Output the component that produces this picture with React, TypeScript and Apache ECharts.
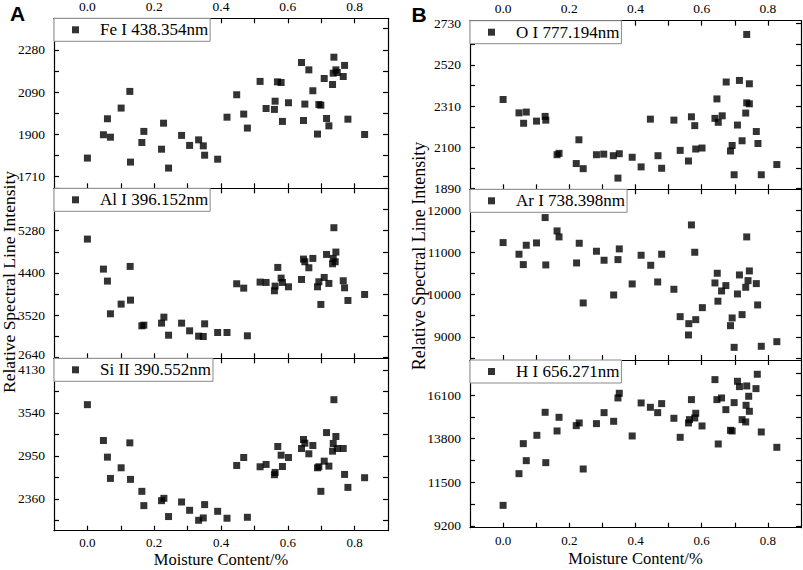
import React, { useEffect, useRef } from 'react';
import * as echarts from 'echarts';

// ---------- data ----------
const xTicks = [0, 0.1, 0.2, 0.3, 0.4, 0.5, 0.6, 0.7, 0.8];
const xLabels = [0, 0.2, 0.4, 0.6, 0.8];

const feLabels = [1710, 1900, 2090, 2280];
const feTicks = [1710, 1805, 1900, 1995, 2090, 2185, 2280, 2375];
const alLabels = [2640, 3520, 4400, 5280];
const alTicks = [2640, 3080, 3520, 3960, 4400, 4840, 5280, 5720, 6160];
const siLabels = [2360, 2950, 3540, 4130];
const siTicks = [2065, 2360, 2655, 2950, 3245, 3540, 3835, 4130];
const oLabels = [1890, 2100, 2310, 2520, 2730];
const oTicks = [1890, 1995, 2100, 2205, 2310, 2415, 2520, 2625, 2730];
const arLabels = [9000, 10000, 11000, 12000];
const arTicks = [8500, 9000, 9500, 10000, 10500, 11000, 11500, 12000];
const hLabels = [9200, 11500, 13800, 16100];
const hTicks = [9200, 10350, 11500, 12650, 13800, 14950, 16100, 17250];

const fePoints = [
  [0.0, 1793], [0.048, 1898], [0.06, 1970], [0.069, 1887], [0.101, 2018], [0.127, 2093], [0.129, 1775],
  [0.163, 1863], [0.169, 1913], [0.222, 1833], [0.228, 1950], [0.243, 1748], [0.282, 1895], [0.306, 1850],
  [0.333, 1875], [0.347, 1848], [0.351, 1806], [0.39, 1788], [0.418, 1977], [0.447, 2078], [0.468, 1991],
  [0.479, 1928], [0.517, 2138], [0.535, 2016], [0.56, 2012], [0.562, 2049], [0.569, 2136], [0.58, 2133],
  [0.584, 1958], [0.602, 2042], [0.641, 2223], [0.647, 1962], [0.651, 2036], [0.663, 2190], [0.675, 2096],
  [0.689, 1901], [0.693, 2034], [0.699, 2031], [0.709, 2151], [0.716, 1971], [0.723, 1938], [0.734, 2124],
  [0.736, 2175], [0.738, 2247], [0.744, 2190], [0.748, 2178], [0.766, 2160], [0.77, 2210], [0.78, 1968],
  [0.83, 1899],
];

const alPoints = [
  [0.0, 5106], [0.048, 4480], [0.06, 4230], [0.069, 3548], [0.101, 3750], [0.128, 4536], [0.129, 3833],
  [0.163, 3297], [0.169, 3311], [0.222, 3353], [0.229, 3478], [0.243, 3102], [0.282, 3353], [0.306, 3193],
  [0.333, 3082], [0.347, 3075], [0.351, 3339], [0.39, 3158], [0.418, 3158], [0.447, 4174], [0.468, 4083],
  [0.479, 3089], [0.517, 4209], [0.535, 4202], [0.56, 4028], [0.562, 4125], [0.57, 4515], [0.58, 4292],
  [0.584, 4202], [0.602, 4111], [0.641, 4264], [0.647, 4689], [0.651, 4633], [0.663, 4508], [0.675, 4703],
  [0.689, 4111], [0.693, 4216], [0.699, 3743], [0.709, 4306], [0.716, 4786], [0.723, 4181], [0.734, 4591],
  [0.736, 4703], [0.738, 5343], [0.742, 4633], [0.744, 4835], [0.766, 4237], [0.77, 4090], [0.78, 3826],
  [0.83, 3951],
];

const siPoints = [
  [0.0, 3654], [0.048, 3162], [0.06, 2934], [0.069, 2642], [0.101, 2788], [0.127, 3130], [0.129, 2629],
  [0.163, 2465], [0.169, 2269], [0.222, 2337], [0.229, 2369], [0.243, 2119], [0.282, 2319], [0.306, 2205],
  [0.333, 2068], [0.347, 2100], [0.351, 2283], [0.39, 2191], [0.418, 2096], [0.447, 2820], [0.468, 2929],
  [0.479, 2109], [0.517, 2802], [0.535, 2834], [0.56, 2693], [0.562, 2724], [0.57, 3080], [0.58, 2961],
  [0.584, 2806], [0.602, 2929], [0.641, 3053], [0.647, 3176], [0.651, 3125], [0.663, 2980], [0.675, 3094],
  [0.689, 2788], [0.693, 2802], [0.699, 2465], [0.709, 2879], [0.716, 3271], [0.723, 2811], [0.734, 3016],
  [0.736, 3121], [0.738, 3722], [0.744, 3217], [0.748, 3053], [0.766, 3053], [0.77, 2697], [0.78, 2519],
  [0.83, 2652],
];

const oPoints = [
  [0.0, 2344], [0.048, 2276], [0.062, 2223], [0.07, 2280], [0.101, 2234], [0.127, 2258], [0.129, 2239],
  [0.163, 2063], [0.169, 2070], [0.221, 2018], [0.229, 2139], [0.242, 1992], [0.282, 2063], [0.304, 2066],
  [0.333, 2058], [0.347, 1944], [0.351, 2068], [0.39, 2050], [0.417, 2001], [0.445, 2244], [0.468, 2058],
  [0.479, 1994], [0.516, 2239], [0.535, 2085], [0.56, 2031], [0.569, 2256], [0.579, 2211], [0.582, 2092],
  [0.601, 2097], [0.64, 2248], [0.646, 2347], [0.65, 2228], [0.662, 2261], [0.674, 2433], [0.687, 2082],
  [0.692, 2110], [0.698, 1961], [0.708, 2214], [0.714, 2441], [0.722, 2134], [0.733, 2275], [0.736, 2327],
  [0.736, 2675], [0.744, 2322], [0.744, 2424], [0.765, 2181], [0.77, 2120], [0.78, 1961], [0.827, 2013],
];

const arPoints = [
  [0.0, 11229], [0.048, 10953], [0.061, 10708], [0.07, 11166], [0.101, 11221], [0.127, 11821], [0.129, 10700],
  [0.163, 11505], [0.169, 11363], [0.222, 10747], [0.23, 11213], [0.242, 9800], [0.282, 11024], [0.305, 10811],
  [0.334, 9989], [0.347, 10826], [0.351, 11079], [0.39, 10250], [0.417, 10929], [0.446, 10692], [0.467, 10297],
  [0.479, 10953], [0.516, 10124], [0.535, 9476], [0.56, 9042], [0.561, 9310], [0.569, 11647], [0.579, 11000],
  [0.582, 9405], [0.602, 9689], [0.64, 10274], [0.647, 10503], [0.649, 9842], [0.66, 10084], [0.673, 10211],
  [0.687, 9263], [0.692, 9445], [0.698, 8750], [0.708, 10013], [0.714, 10463], [0.722, 9524], [0.733, 10171],
  [0.736, 11363], [0.74, 10329], [0.744, 10558], [0.765, 10258], [0.769, 9753], [0.78, 8774], [0.827, 8884],
];

const hPoints = [
  [0.0, 10280], [0.048, 11952], [0.061, 13536], [0.07, 12638], [0.102, 13976], [0.127, 15190], [0.129, 12533],
  [0.163, 14205], [0.169, 14926], [0.221, 14486], [0.23, 14627], [0.242, 12198], [0.282, 14592], [0.305, 15173],
  [0.334, 14715], [0.347, 15947], [0.351, 16194], [0.39, 13941], [0.417, 15683], [0.445, 15454], [0.467, 15173],
  [0.479, 15648], [0.516, 14874], [0.535, 13870], [0.56, 14627], [0.563, 14803], [0.569, 15859], [0.579, 14891],
  [0.582, 15138], [0.601, 14469], [0.64, 16915], [0.646, 15859], [0.65, 13518], [0.66, 15947], [0.673, 15331],
  [0.687, 14240], [0.692, 14205], [0.698, 15701], [0.708, 16827], [0.714, 16546], [0.722, 14803], [0.733, 14680],
  [0.734, 15560], [0.736, 16581], [0.742, 16035], [0.744, 15243], [0.764, 16440], [0.768, 17197], [0.78, 14152],
  [0.827, 13342],
];

const seriesNames = ['Fe I 438.354nm', 'Al I 396.152nm', 'Si II 390.552nm', 'O I 777.194nm', 'Ar I 738.398nm', 'H I 656.271nm'];
const xTitle = 'Moisture Content/%';
const yTitle = 'Relative Spectral Line Intensity';

// ---------- layout ----------
const SERIF = 'Liberation Serif';
const panels = [
  { data: fePoints, labels: feLabels, ticks: feTicks, min: 1657, max: 2422, left: 54, top: 18.3, width: 334, height: 170, first: true, last: false, lift: null as number | null, bottomMargin: 6 },
  { data: alPoints, labels: alLabels, ticks: alTicks, min: 2620, max: 6165, left: 54, top: 188.3, width: 334, height: 170, first: false, last: false, lift: 2640, bottomMargin: 6 },
  { data: siPoints, labels: siLabels, ticks: siTicks, min: 1925, max: 4290, left: 54, top: 358.3, width: 334, height: 172.4, first: false, last: true, lift: null, bottomMargin: 6 },
  { data: oPoints, labels: oLabels, ticks: oTicks, min: 1887, max: 2745, left: 470, top: 20.7, width: 331, height: 168.6, first: true, last: false, lift: null, bottomMargin: 7 },
  { data: arPoints, labels: arLabels, ticks: arTicks, min: 8450, max: 12490, left: 470, top: 189.3, width: 331, height: 170.7, first: false, last: false, lift: null, bottomMargin: 7 },
  { data: hPoints, labels: hLabels, ticks: hTicks, min: 9100, max: 17950, left: 470, top: 360, width: 331, height: 167.7, first: false, last: true, lift: null, bottomMargin: 7 },
];

function buildOption() {
  const lineStyle = { color: '#000', width: 1.2 };
  const tickFont = { fontFamily: SERIF, fontSize: 13.5, lineHeight: 12, color: '#000' };
  const xTickFont = { ...tickFont, fontSize: 13 };
  const grid: any[] = [];
  const xAxis: any[] = [];
  const yAxis: any[] = [];
  const series: any[] = [];
  const legend: any[] = [];
  panels.forEach((p, i) => {
    grid.push({ left: p.left, top: p.top, width: p.width, height: p.height, containLabel: false, outerBoundsMode: 'none' });
    const xBase = {
      gridIndex: i, type: 'value', min: -0.1, max: 0.9,
      axisLine: { show: true, onZero: false, lineStyle },
      axisTick: { show: true, inside: true, length: 5, customValues: xTicks, lineStyle },
      splitLine: { show: false },
    };
    xAxis.push({
      ...xBase, position: 'bottom',
      axisLabel: { show: p.last, customValues: xLabels, formatter: (v: number) => Number(v).toFixed(1), margin: p.bottomMargin, ...xTickFont },
    });
    xAxis.push({
      ...xBase, position: 'top',
      axisLabel: { show: p.first, customValues: xLabels, formatter: (v: number) => Number(v).toFixed(1), margin: 6, ...tickFont },
    });
    const yBase = {
      gridIndex: i, type: 'value', min: p.min, max: p.max,
      axisLine: { show: true, onZero: false, lineStyle },
      axisTick: { show: true, inside: true, length: 5, customValues: p.ticks, lineStyle },
      splitLine: { show: false },
    };
    yAxis.push({
      ...yBase, position: 'left',
      axisLabel: {
        show: true, customValues: p.labels, margin: 9, ...tickFont,
        formatter: (v: number) => {
          const s = String(Math.round(v));
          return p.lift !== null && Math.round(v) === p.lift ? '{lo|' + s + '}' : s;
        },
        rich: { lo: { ...tickFont, padding: [0, 0, 5, 0] } },
      },
    });
    yAxis.push({ ...yBase, position: 'right', axisLabel: { show: false } });
    series.push({
      name: seriesNames[i], type: 'scatter', xAxisIndex: 2 * i, yAxisIndex: 2 * i,
      symbol: 'rect', symbolSize: 7, itemStyle: { color: '#000' }, data: p.data,
    });
    legend.push({
      data: [seriesNames[i]], left: p.left, top: p.top, orient: 'horizontal',
      backgroundColor: '#fff', borderColor: '#8a8a8a', borderWidth: 1,
      padding: [3, 2, 3, 18], itemWidth: 7, itemHeight: 7, icon: 'rect', selectedMode: false,
      textStyle: { fontFamily: SERIF, fontSize: 17, color: '#000', padding: [0, 0, 0, 16] },
      z: 10,
    });
  });
  const titleStyle = { fontFamily: SERIF, fill: '#000', align: 'center', verticalAlign: 'middle' };
  const graphic = [
    { type: 'text', x: 9, y: 282, rotation: Math.PI / 2, style: { ...titleStyle, text: yTitle, fontSize: 17.5 } },
    { type: 'text', x: 419, y: 256, rotation: Math.PI / 2, style: { ...titleStyle, text: yTitle, fontSize: 18 } },
    { type: 'text', x: 221, y: 559.5, style: { ...titleStyle, text: xTitle, fontSize: 16.5 } },
    { type: 'text', x: 635.5, y: 558, style: { ...titleStyle, text: xTitle, fontSize: 16.5 } },
    { type: 'text', x: 17.5, y: 13, style: { ...titleStyle, text: 'A', fontFamily: 'Liberation Sans', fontWeight: 'bold', fontSize: 21 } },
    { type: 'text', x: 419, y: 14, style: { ...titleStyle, text: 'B', fontFamily: 'Liberation Sans', fontWeight: 'bold', fontSize: 21 } },
  ];
  return { animation: false, backgroundColor: '#fff', grid, xAxis, yAxis, series, legend, graphic };
}

export default function App() {
  const ref = useRef<HTMLDivElement>(null);
  useEffect(() => {
    if (!ref.current) return;
    const chart = echarts.init(ref.current, undefined, { renderer: 'svg' });
    chart.setOption(buildOption() as any);
    return () => chart.dispose();
  }, []);
  return <div ref={ref} style={{ position: 'fixed', left: 0, top: 0, width: 803, height: 570 }} />;
}
